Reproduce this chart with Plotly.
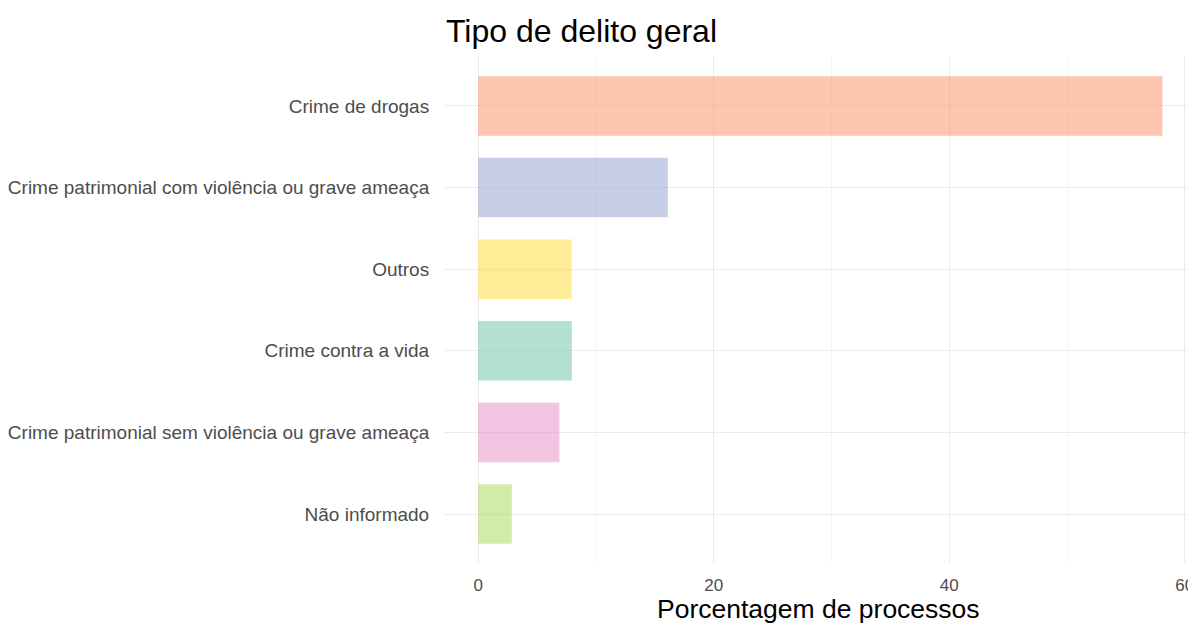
import plotly.graph_objects as go

# categories, top to bottom as drawn
categorias = [
    "Crime de drogas",
    "Crime patrimonial com violência ou grave ameaça",
    "Outros",
    "Crime contra a vida",
    "Crime patrimonial sem violência ou grave ameaça",
    "Não informado",
]
percentuais = [58.1, 16.1, 7.95, 7.95, 6.9, 2.86]
cores = [
    "rgba(252,141,98,0.5)",
    "rgba(141,160,203,0.5)",
    "rgba(255,217,47,0.5)",
    "rgba(102,194,165,0.5)",
    "rgba(231,138,195,0.5)",
    "rgba(166,216,84,0.5)",
]
x_ticks = [0, 20, 40, 60]

W, H = 1188, 616  # page body has an 8px margin

fig = go.Figure()
fig.add_trace(
    go.Bar(
        x=percentuais,
        y=categorias,
        orientation="h",
        marker=dict(color=cores, line=dict(width=0)),
        width=0.73,
        showlegend=False,
    )
)

fig.update_layout(
    width=W,
    height=H,
    margin=dict(l=436, r=0, t=49, b=61, autoexpand=False),
    plot_bgcolor="white",
    paper_bgcolor="white",
    font=dict(family="Liberation Sans, Arial, sans-serif", color="#4D4D4D", size=17),
    title=dict(
        text="Tipo de delito geral",
        x=438 / W,
        xanchor="left",
        y=1 - 23 / H,
        yanchor="middle",
        font=dict(size=32, color="black"),
    ),
)

# x-axis title as an annotation so its spot is fixed
fig.add_annotation(
    text="Porcentagem de processos",
    xref="paper",
    yref="paper",
    x=0.498,
    y=0,
    xanchor="center",
    yanchor="middle",
    yshift=-46,
    showarrow=False,
    font=dict(size=26.5, color="black"),
)

fig.update_xaxes(
    range=[-2.9, 60.95],
    tickvals=x_ticks,
    showgrid=True,
    gridcolor="#EBEBEB",
    gridwidth=1.2,
    zeroline=False,
    showline=False,
    ticks="outside",
    ticklen=7,
    tickcolor="rgba(0,0,0,0)",
    ticklabeloverflow="allow",
    automargin=False,
    minor=dict(dtick=10, tick0=0, showgrid=True, gridcolor="#F4F4F4", gridwidth=1),
    tickfont=dict(size=17, color="#4D4D4D"),
)

fig.update_yaxes(
    categoryorder="array",
    categoryarray=categorias[::-1],
    range=[-0.6, 5.6],
    showgrid=True,
    gridcolor="#EBEBEB",
    gridwidth=1.2,
    zeroline=False,
    showline=False,
    ticks="outside",
    ticklen=10,
    tickcolor="rgba(0,0,0,0)",
    automargin=False,
    tickfont=dict(size=19, color="#4D4D4D"),
)

fig.write_html("out.html")
